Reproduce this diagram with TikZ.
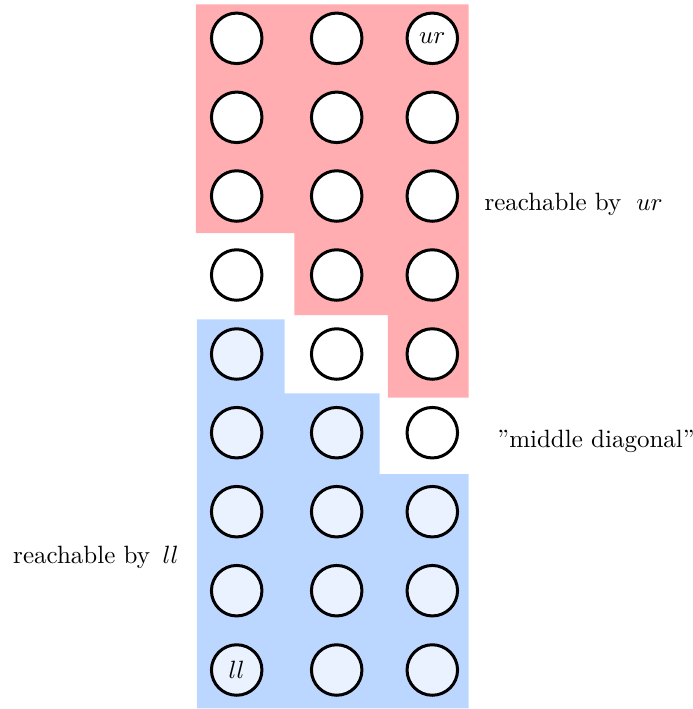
\documentclass[tikz,border=0pt]{standalone}
\definecolor{regred}{RGB}{255,173,176}
\definecolor{regblue}{RGB}{188,215,255}
\definecolor{cellblue}{RGB}{234,242,255}
\begin{document}
\begin{tikzpicture}[x=0.4pt,y=-0.4pt,
  cell/.style={circle,draw=black,line width=1.2pt,minimum size=20.2pt,inner sep=0pt,fill=white},
  bluecell/.style={cell,fill=cellblue},
  lab/.style={inner sep=0pt}]
\useasboundingbox (0,0) rectangle (693,709);
% regions
\fill[regred] (196,4.3) -- (468.7,4.3) -- (468.7,397.7) -- (388,397.7) -- (388,315)
  -- (294.3,315) -- (294.3,233) -- (196,233) -- cycle;
\fill[regblue] (197,319.3) -- (284.7,319.3) -- (284.7,393.3) -- (379.7,393.3)
  -- (379.7,474) -- (468.7,474) -- (468.7,708.3) -- (197,708.3) -- cycle;
% white cells
\foreach \r/\y in {2/117.3,3/196,4/275}
  \foreach \c/\x in {1/236.7,2/336.7,3/432.3}
    \node[cell] (n\r\c) at (\x,\y) {};
\node[cell] (n11) at (236.7,38.3) {};
\node[cell] (n12) at (336.7,38.3) {};
\node[cell] (n13) at (432.3,38.3) {$ur$};
\node[cell] (n52) at (336.7,354) {};
\node[cell] (n53) at (432.3,354) {};
\node[cell] (n63) at (432.3,432.7) {};
% blue cells
\node[bluecell] (n51) at (236.7,354) {};
\node[bluecell] (n61) at (236.7,432.7) {};
\node[bluecell] (n62) at (336.7,432.7) {};
\foreach \r/\y in {7/511.7,8/590.7}
  \foreach \c/\x in {1/236.7,2/336.7,3/432.3}
    \node[bluecell] (n\r\c) at (\x,\y) {};
\node[bluecell] (n91) at (236.7,670) {$ll$};
\node[bluecell] (n92) at (336.7,670) {};
\node[bluecell] (n93) at (432.3,670) {};
% labels
\node[lab,anchor=west] (lur) at (484,204) {reachable by\hspace{6pt}$ur$};
\node[lab,anchor=west] (lmid) at (497,441) {''middle diagonal''};
\node[lab,anchor=east] (lll) at (179,557) {reachable by\hspace{5pt}$ll$};
\end{tikzpicture}
\end{document}
